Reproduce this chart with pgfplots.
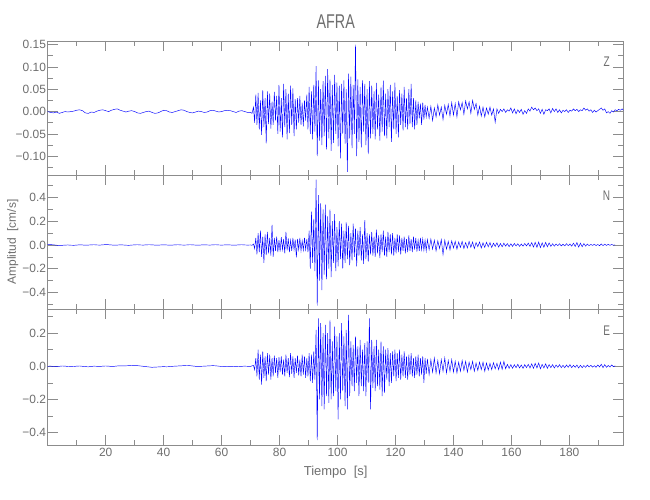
\documentclass[border=0pt]{standalone}
\usepackage{fontspec}
\setmainfont{Liberation Sans}
\newfontfamily\titlefont{Liberation Sans}[FakeStretch=0.72]
\usepackage{pgfplots}
\pgfplotsset{compat=1.18}
\definecolor{axgray}{RGB}{140,140,140}
\definecolor{txtgray}{RGB}{110,110,110}
\definecolor{trace}{RGB}{0,0,255}
\pgfplotsset{seis/.style={
  scale only axis, width=575.6bp, xmin=0, xmax=198.6,
  axis line style={axgray, line width=0.6bp},
  every tick/.style={axgray, line width=0.6bp},
  major tick length=10bp, minor tick length=5bp,
  xtick={20,40,...,180}, minor xtick={10,30,...,190},
  tick align=inside, xtick pos=both, ytick pos=both,
  xticklabel pos=bottom, yticklabel pos=left,
  ticklabel style={font=\fontsize{12}{14}\selectfont, text=txtgray},
  yticklabel style={inner sep=1.5bp},
  clip=true,
}}
\begin{document}
\begin{tikzpicture}
\path[use as bounding box] (-47.7bp,-55bp) rectangle (602.3bp,445bp);
% ---------------- Z ----------------
\begin{axis}[seis, at={(0,270bp)}, anchor=south west, height=134bp,
  ymin=-0.142, ymax=0.158,
  ytick={-0.10,-0.05,0,0.05,0.10,0.15}, minor ytick={-0.125,-0.075,-0.025,0.025,0.075,0.125},
  yticklabels={−0.10,−0.05,0.00,0.05,0.10,0.15}, xticklabels={}]
\addplot[trace, line width=0.45bp] coordinates {
(0,0.000)(1,-0.002)(2,-0.003)(3,-0.001)(4,-0.004)(5,-0.002)(6,0.000)(7,-0.001)(8,0.000)(9,0.001)
(10,0.003)(11,0.004)(12,0.002)(13,-0.003)(14,-0.004)(15,-0.001)(16,-0.002)(17,0.001)(18,0.003)(19,0.004)
(20,0.002)(21,0.000)(22,0.003)(23,0.005)(24,0.006)(25,0.003)(26,0.001)(27,-0.001)(28,0.001)(29,0.002)
(30,0.000)(31,-0.003)(32,-0.004)(33,-0.002)(34,0.000)(35,0.001)(36,-0.002)(37,-0.004)(38,-0.003)(39,0.000)
(40,0.003)(41,0.002)(42,-0.001)(43,-0.002)(44,0.000)(45,0.002)(46,0.004)(47,0.003)(48,0.000)(49,-0.002)
(50,-0.003)(51,-0.001)(52,0.001)(53,0.000)(54,-0.002)(55,-0.001)(56,0.002)(57,0.003)(58,0.001)(59,-0.001)
(60,0.000)(61,0.002)(62,0.003)(63,0.002)(64,0.000)(65,-0.002)(66,0.001)(67,0.002)(68,0.000)(69,-0.002)
(70,-0.002)(70.5,-0.004)
(71.0,0.010)(71.4,-0.025)(71.8,0.038)(72.2,-0.030)(72.6,0.042)(73.0,-0.040)(73.4,0.025)(73.8,-0.052)
(74.2,0.048)(74.6,-0.035)(75.0,0.030)(75.4,-0.071)(75.8,0.045)(76.2,-0.028)(76.6,0.040)(77.0,-0.038)
(77.4,0.022)(77.8,-0.030)(78.2,0.044)(78.6,-0.020)(79.0,0.035)(79.4,-0.050)(79.8,0.060)(80.2,-0.045)
(80.6,0.030)(81.0,-0.058)(81.4,0.062)(81.8,-0.035)(82.2,0.050)(82.6,-0.062)(83.0,0.040)(83.4,-0.048)
(83.8,0.058)(84.2,-0.030)(84.6,0.052)(85.0,-0.055)(85.4,0.028)(85.8,-0.040)(86.2,0.030)(86.6,-0.025)
(87.0,0.035)(87.4,-0.030)(87.8,0.020)(88.2,-0.033)(88.6,0.025)(89.0,-0.020)(89.4,0.038)(89.8,-0.040)
(90.2,0.055)(90.6,-0.050)(91.0,0.045)(91.4,-0.062)(91.8,0.060)(92.2,-0.045)(92.6,0.102)(93.0,-0.100)
(93.4,0.070)(93.8,-0.065)(94.2,0.050)(94.6,-0.075)(95.0,0.068)(95.4,-0.055)(95.8,0.080)(96.2,-0.085)
(96.6,0.095)(97.0,-0.060)(97.4,0.072)(97.8,-0.088)(98.2,0.060)(98.6,-0.070)(99.0,0.082)(99.4,-0.050)
(99.8,0.065)(100.2,-0.078)(100.6,0.058)(101.0,-0.105)(101.4,0.062)(101.8,-0.050)(102.2,0.070)(102.6,-0.072)
(103.0,0.050)(103.4,-0.135)(103.8,0.085)(104.2,-0.060)(104.6,0.078)(105.0,-0.082)(105.4,0.060)(105.8,-0.050)
(106.2,0.150)(106.6,-0.100)(107.0,0.072)(107.4,-0.068)(107.8,0.055)(108.2,-0.080)(108.6,0.070)(109.0,-0.045)
(109.4,0.062)(109.8,-0.075)(110.2,0.050)(110.6,-0.095)(111.0,0.068)(111.4,-0.060)(111.8,0.058)(112.2,-0.050)
(112.6,0.045)(113.0,-0.062)(113.4,0.064)(113.8,-0.040)(114.2,0.038)(114.6,-0.065)(115.0,0.055)(115.4,-0.045)
(115.8,0.069)(116.2,-0.055)(116.6,0.040)(117.0,-0.060)(117.4,0.050)(117.8,-0.035)(118.2,0.060)(118.6,-0.068)
(119.0,0.045)(119.4,-0.040)(119.8,0.065)(120.2,-0.050)(120.6,0.035)(121.0,-0.058)(121.4,0.048)(121.8,-0.030)
(122.2,0.040)(122.6,-0.042)(123.0,0.055)(123.4,-0.035)(123.8,0.030)(124.2,-0.040)(124.6,0.050)(125.0,-0.028)
(125.4,0.062)(125.8,-0.035)(126.2,0.030)(126.6,-0.040)(127.0,0.025)(127.4,-0.030)(127.8,0.022)(128.2,-0.015)
(128.6,0.018)(129.0,-0.030)(129.4,0.020)(129.8,-0.018)(130.2,0.015)(130.6,-0.012)
(131.0,0.010)(131.6,-0.015)(132.2,0.012)(132.8,-0.020)(133.4,0.008)(134.0,-0.012)(134.6,0.015)(135.2,-0.008)
(135.8,0.010)(136.4,-0.018)(137.0,0.014)(137.6,-0.006)(138.2,0.016)(138.8,-0.010)(139.4,0.020)(140.0,-0.008)
(140.6,0.018)(141.2,-0.012)(141.8,0.022)(142.4,0.004)(143.0,0.020)(143.6,-0.006)(144.2,0.024)(144.8,0.006)
(145.4,0.022)(146.0,-0.004)(146.6,0.025)(147.2,0.005)(147.8,0.018)(148.4,-0.008)(149.0,0.012)(149.6,-0.010)
(150.2,0.010)(150.8,-0.012)(151.4,0.008)(152.0,-0.006)(152.6,0.010)(153.2,-0.008)(153.8,0.006)(154.4,-0.024)
(155.0,0.006)(155.6,-0.004)(156.2,0.005)(156.8,0.000)(157.4,0.006)(158.0,-0.002)(158.6,0.004)(159.2,0.001)
(159.8,0.008)(160.4,-0.003)(161.0,0.006)(161.6,-0.005)(162.2,0.004)(162.8,-0.002)(163.4,0.005)(164.0,-0.006)
(164.6,0.002)(165.2,-0.004)(165.8,0.006)(166.4,0.001)(167.0,0.010)(167.6,0.004)(168.2,0.008)(168.8,0.002)
(169.4,0.006)(170.0,-0.004)(170.6,0.005)(171.2,-0.006)(171.8,0.004)(172.4,0.002)(173.0,0.006)(173.6,-0.003)
(174.2,0.007)(174.8,0.000)(175.4,0.006)(176.0,-0.002)(176.6,0.004)(177.2,-0.003)(177.8,0.003)(178.4,0.000)
(179.0,0.004)(179.6,-0.002)(180.2,0.003)(180.8,0.001)(181.4,0.006)(182.0,0.002)(182.6,0.005)(183.2,0.000)
(183.8,0.004)(184.4,0.002)(185.0,0.008)(185.6,0.003)(186.2,0.006)(186.8,0.001)(187.4,0.004)(188.0,-0.002)
(188.6,0.003)(189.2,-0.001)(189.8,0.002)(190.4,0.005)(191.0,0.008)(191.6,0.003)(192.2,0.006)(192.8,-0.003)
(193.4,0.000)(194.0,-0.004)(194.6,0.002)(195.2,-0.001)(195.8,0.004)(196.4,0.002)(197.0,0.005)(197.6,0.003)
(198.2,0.006)(198.6,0.003)
};
\node[font=\fontsize{14}{16}\titlefont, text=txtgray] at (rel axis cs:0.971,0.843) {Z};
\end{axis}
% ---------------- N ----------------
\begin{axis}[seis, at={(0,136bp)}, anchor=south west, height=134bp,
  ymin=-0.539, ymax=0.589,
  ytick={-0.4,-0.2,0,0.2,0.4}, minor ytick={-0.5,-0.3,-0.1,0.1,0.3,0.5},
  yticklabels={−0.4,−0.2,0.0,0.2,0.4}, xticklabels={}]
\addplot[trace, line width=0.45bp] coordinates {
(0,0.002)(1,0.003)(2,0.001)(3,-0.002)(4,-0.004)(5,-0.003)(6,-0.001)(7,0.000)(8,-0.002)(9,-0.003)
(10,-0.001)(11,0.001)(12,0.000)(13,-0.002)(14,-0.001)(15,0.001)(16,0.002)(17,0.000)(18,-0.001)(19,0.001)
(20,0.003)(21,0.002)(22,0.000)(23,-0.002)(24,-0.001)(25,0.001)(26,0.000)(27,-0.002)(28,-0.003)(29,-0.001)
(30,0.001)(31,0.002)(32,0.000)(33,-0.001)(34,0.001)(35,0.002)(36,0.001)(37,-0.001)(38,-0.002)(39,0.000)
(40,0.001)(41,0.000)(42,-0.002)(43,-0.001)(44,0.001)(45,0.002)(46,0.000)(47,-0.001)(48,0.000)(49,0.002)
(50,0.001)(51,-0.001)(52,-0.002)(53,0.000)(54,0.001)(55,0.000)(56,-0.001)(57,0.001)(58,0.002)(59,0.000)
(60,-0.001)(61,0.000)(62,0.001)(63,0.000)(64,-0.002)(65,-0.001)(66,0.001)(67,0.002)(68,0.000)(69,-0.001)
(70,0.000)(70.5,-0.003)
(71.0,0.008)(71.4,-0.030)(71.8,0.060)(72.2,-0.080)(72.6,0.100)(73.0,-0.060)(73.4,0.120)(73.8,-0.100)
(74.2,0.070)(74.6,-0.150)(75.0,0.090)(75.4,-0.085)(75.8,0.110)(76.2,-0.070)(76.6,0.060)(77.0,-0.090)
(77.4,0.170)(77.8,-0.100)(78.2,0.060)(78.6,-0.050)(79.0,0.070)(79.4,-0.060)(79.8,0.040)(80.2,-0.055)
(80.6,0.065)(81.0,-0.040)(81.4,0.050)(81.8,-0.070)(82.2,0.110)(82.6,-0.045)(83.0,0.055)(83.4,-0.060)
(83.8,0.040)(84.2,-0.050)(84.6,0.060)(85.0,-0.040)(85.4,0.045)(85.8,-0.105)(86.2,0.050)(86.6,-0.040)
(87.0,0.060)(87.4,-0.050)(87.8,0.035)(88.2,-0.045)(88.6,0.060)(89.0,-0.040)(89.4,0.050)(89.8,-0.060)
(90.2,0.120)(90.6,-0.200)(91.0,0.280)(91.4,-0.150)(91.8,0.220)(92.2,-0.220)(92.6,0.550)(93.0,-0.510)
(93.4,0.420)(93.8,-0.300)(94.2,0.350)(94.6,-0.380)(95.0,0.300)(95.4,-0.250)(95.8,0.340)(96.2,-0.290)
(96.6,0.240)(97.0,-0.200)(97.4,0.300)(97.8,-0.270)(98.2,0.200)(98.6,-0.150)(99.0,0.260)(99.4,-0.220)
(99.8,0.150)(100.2,-0.180)(100.6,0.200)(101.0,-0.120)(101.4,0.180)(101.8,-0.200)(102.2,0.120)(102.6,-0.150)
(103.0,0.190)(103.4,-0.120)(103.8,0.160)(104.2,-0.170)(104.6,0.100)(105.0,-0.130)(105.4,0.180)(105.8,-0.100)
(106.2,0.140)(106.6,-0.180)(107.0,0.120)(107.4,-0.090)(107.8,0.150)(108.2,-0.130)(108.6,0.090)(109.0,-0.160)
(109.4,0.210)(109.8,-0.120)(110.2,0.100)(110.6,-0.140)(111.0,0.090)(111.4,-0.080)(111.8,0.110)(112.2,-0.090)
(112.6,0.070)(113.0,-0.100)(113.4,0.130)(113.8,-0.070)(114.2,0.080)(114.6,-0.110)(115.0,0.090)(115.4,-0.060)
(115.8,0.120)(116.2,-0.090)(116.6,0.070)(117.0,-0.100)(117.4,0.110)(117.8,-0.060)(118.2,0.090)(118.6,-0.080)
(119.0,0.100)(119.4,-0.090)(119.8,0.060)(120.2,-0.070)(120.6,0.090)(121.0,-0.060)(121.4,0.080)(121.8,-0.080)
(122.2,0.060)(122.6,-0.050)(123.0,0.070)(123.4,-0.070)(123.8,0.050)(124.2,-0.060)(124.6,0.080)(125.0,-0.050)
(125.4,0.050)(125.8,-0.060)(126.2,0.070)(126.6,-0.040)(127.0,0.060)(127.4,-0.055)(127.8,0.040)(128.2,-0.050)
(128.6,0.060)(129.0,-0.040)(129.4,0.050)(129.8,-0.045)(130.2,0.040)(130.6,-0.050)
(131.0,0.045)(131.6,-0.040)(132.2,0.050)(132.8,-0.035)(133.4,0.040)(134.0,-0.050)(134.6,0.035)(135.2,-0.030)
(135.8,0.045)(136.4,-0.080)(137.0,0.040)(137.6,-0.035)(138.2,0.030)(138.8,-0.040)(139.4,0.035)(140.0,-0.025)
(140.6,0.030)(141.2,-0.035)(141.8,0.025)(142.4,-0.020)(143.0,0.030)(143.6,-0.030)(144.2,0.020)(144.8,-0.025)
(145.4,0.030)(146.0,-0.020)(146.6,0.025)(147.2,-0.030)(147.8,0.020)(148.4,-0.015)(149.0,0.025)(149.6,-0.025)
(150.2,0.018)(150.8,-0.020)(151.4,0.022)(152.0,-0.015)(152.6,0.020)(153.2,-0.022)(153.8,0.015)(154.4,-0.012)
(155.0,0.018)(155.6,-0.018)(156.2,0.012)(156.8,-0.015)(157.4,0.015)(158.0,-0.010)(158.6,0.012)(159.2,-0.014)
(159.8,0.010)(160.4,-0.012)(161.0,0.012)(161.6,-0.008)(162.2,0.010)(162.8,-0.012)(163.4,0.008)(164.0,-0.010)
(164.6,0.012)(165.2,-0.008)(165.8,0.015)(166.4,-0.012)(167.0,0.020)(167.6,-0.018)(168.2,0.022)(168.8,-0.020)
(169.4,0.025)(170.0,-0.022)(170.6,0.018)(171.2,-0.020)(171.8,0.022)(172.4,-0.015)(173.0,0.018)(173.6,-0.012)
(174.2,0.010)(174.8,-0.010)(175.4,0.008)(176.0,-0.006)(176.6,0.010)(177.2,-0.008)(177.8,0.006)(178.4,-0.008)
(179.0,0.010)(179.6,-0.006)(180.2,0.008)(180.8,-0.010)(181.4,0.015)(182.0,-0.012)(182.6,0.020)(183.2,-0.018)
(183.8,0.015)(184.4,-0.015)(185.0,0.012)(185.6,-0.010)(186.2,0.008)(186.8,-0.006)(187.4,0.005)(188.0,-0.004)
(188.6,0.006)(189.2,-0.005)(189.8,0.004)(190.4,-0.006)(191.0,0.008)(191.6,-0.005)(192.2,0.006)(192.8,-0.004)
(193.4,0.005)(194.0,-0.003)(194.6,0.004)(195.2,-0.002)(195.8,0.001)
};
\node[font=\fontsize{14}{16}\titlefont, text=txtgray] at (rel axis cs:0.971,0.843) {N};
\end{axis}
% ---------------- E ----------------
\begin{axis}[seis, at={(0,0)}, anchor=south west, height=136bp,
  ymin=-0.475, ymax=0.346,
  ytick={-0.4,-0.2,0,0.2}, minor ytick={-0.3,-0.1,0.1,0.3},
  yticklabels={−0.4,−0.2,0.0,0.2},
  xticklabels={20,40,60,80,100,120,140,160,180}]
\addplot[trace, line width=0.45bp] coordinates {
(0,0.000)(1,0.001)(2,-0.001)(3,-0.002)(4,0.000)(5,0.002)(6,0.001)(7,-0.001)(8,-0.002)(9,-0.001)
(10,0.001)(11,0.002)(12,0.000)(13,-0.002)(14,-0.003)(15,-0.001)(16,0.001)(17,0.000)(18,-0.001)(19,0.001)
(20,0.002)(21,0.001)(22,-0.001)(23,0.000)(24,0.002)(25,0.003)(26,0.002)(27,0.003)(28,0.004)(29,0.005)
(30,0.006)(31,0.004)(32,0.002)(33,0.000)(34,-0.002)(35,-0.004)(36,-0.006)(37,-0.005)(38,-0.004)(39,-0.003)
(40,-0.002)(41,-0.003)(42,-0.002)(43,0.000)(44,0.001)(45,0.002)(46,0.003)(47,0.004)(48,0.005)(49,0.004)
(50,0.002)(51,0.000)(52,-0.001)(53,0.000)(54,0.001)(55,0.002)(56,0.003)(57,0.004)(58,0.003)(59,0.001)
(60,-0.001)(61,-0.002)(62,-0.001)(63,0.000)(64,-0.001)(65,-0.002)(66,-0.001)(67,0.000)(68,0.001)(69,0.000)
(70,-0.001)(70.5,0.003)
(71.0,0.005)(71.4,-0.020)(71.8,0.050)(72.2,-0.060)(72.6,0.100)(73.0,-0.080)(73.4,0.070)(73.8,-0.110)
(74.2,0.090)(74.6,-0.070)(75.0,0.060)(75.4,-0.090)(75.8,0.080)(76.2,-0.050)(76.6,0.070)(77.0,-0.080)
(77.4,0.050)(77.8,-0.060)(78.2,0.065)(78.6,-0.040)(79.0,0.050)(79.4,-0.070)(79.8,0.055)(80.2,-0.035)
(80.6,0.060)(81.0,-0.050)(81.4,0.040)(81.8,-0.060)(82.2,0.070)(82.6,-0.040)(83.0,0.050)(83.4,-0.065)
(83.8,0.080)(84.2,-0.045)(84.6,0.060)(85.0,-0.070)(85.4,0.050)(85.8,-0.040)(86.2,0.065)(86.6,-0.055)
(87.0,0.040)(87.4,-0.060)(87.8,0.070)(88.2,-0.050)(88.6,0.060)(89.0,-0.070)(89.4,0.050)(89.8,-0.060)
(90.2,0.080)(90.6,-0.090)(91.0,0.070)(91.4,-0.100)(91.8,0.090)(92.2,-0.080)(92.6,0.220)(93.0,-0.445)
(93.4,0.290)(93.8,-0.200)(94.2,0.260)(94.6,-0.240)(95.0,0.200)(95.4,-0.260)(95.8,0.250)(96.2,-0.180)
(96.6,0.200)(97.0,-0.220)(97.4,0.280)(97.8,-0.200)(98.2,0.150)(98.6,-0.180)(99.0,0.240)(99.4,-0.150)
(99.8,0.180)(100.2,-0.320)(100.6,0.200)(101.0,-0.200)(101.4,0.260)(101.8,-0.150)(102.2,0.180)(102.6,-0.240)
(103.0,0.220)(103.4,-0.260)(103.8,0.310)(104.2,-0.180)(104.6,0.150)(105.0,-0.120)(105.4,0.130)(105.8,-0.150)
(106.2,0.180)(106.6,-0.100)(107.0,0.120)(107.4,-0.180)(107.8,0.160)(108.2,-0.120)(108.6,0.100)(109.0,-0.150)
(109.4,0.140)(109.8,-0.180)(110.2,0.150)(110.6,-0.100)(111.0,0.290)(111.4,-0.260)(111.8,0.160)(112.2,-0.130)
(112.6,0.120)(113.0,-0.150)(113.4,0.160)(113.8,-0.120)(114.2,0.100)(114.6,-0.140)(115.0,0.150)(115.4,-0.180)
(115.8,0.120)(116.2,-0.160)(116.6,0.100)(117.0,-0.080)(117.4,0.110)(117.8,-0.120)(118.2,0.080)(118.6,-0.100)
(119.0,0.090)(119.4,-0.060)(119.8,0.100)(120.2,-0.090)(120.6,0.080)(121.0,-0.070)(121.4,0.100)(121.8,-0.080)
(122.2,0.070)(122.6,-0.060)(123.0,0.090)(123.4,-0.070)(123.8,0.060)(124.2,-0.080)(124.6,0.070)(125.0,-0.050)
(125.4,0.080)(125.8,-0.060)(126.2,0.050)(126.6,-0.070)(127.0,0.060)(127.4,-0.050)(127.8,0.070)(128.2,-0.060)
(128.6,0.050)(129.0,-0.050)(129.4,0.060)(129.8,-0.100)(130.2,0.050)(130.6,-0.045)
(131.0,0.045)(131.6,-0.050)(132.2,0.040)(132.8,-0.035)(133.4,0.050)(134.0,-0.040)(134.6,0.035)(135.2,-0.045)
(135.8,0.040)(136.4,-0.030)(137.0,0.050)(137.6,-0.040)(138.2,0.035)(138.8,-0.030)(139.4,0.040)(140.0,-0.035)
(140.6,0.030)(141.2,-0.040)(141.8,0.025)(142.4,-0.030)(143.0,0.035)(143.6,-0.025)(144.2,0.030)(144.8,-0.035)
(145.4,0.025)(146.0,-0.020)(146.6,0.030)(147.2,-0.030)(147.8,0.020)(148.4,-0.025)(149.0,0.025)(149.6,-0.020)
(150.2,0.025)(150.8,-0.030)(151.4,0.020)(152.0,-0.022)(152.6,0.018)(153.2,-0.020)(153.8,0.022)(154.4,-0.015)
(155.0,0.018)(155.6,-0.020)(156.2,0.025)(156.8,-0.018)(157.4,0.030)(158.0,-0.015)(158.6,0.012)(159.2,-0.012)
(159.8,0.010)(160.4,-0.012)(161.0,0.010)(161.6,-0.008)(162.2,0.012)(162.8,-0.010)(163.4,0.008)(164.0,-0.012)
(164.6,0.010)(165.2,-0.008)(165.8,0.012)(166.4,-0.010)(167.0,0.015)(167.6,-0.012)(168.2,0.018)(168.8,-0.010)
(169.4,0.020)(170.0,-0.015)(170.6,0.012)(171.2,-0.010)(171.8,0.015)(172.4,-0.012)(173.0,0.010)(173.6,-0.008)
(174.2,0.010)(174.8,-0.010)(175.4,0.008)(176.0,-0.006)(176.6,0.010)(177.2,-0.008)(177.8,0.006)(178.4,-0.008)
(179.0,0.008)(179.6,-0.006)(180.2,0.010)(180.8,-0.008)(181.4,0.006)(182.0,-0.006)(182.6,0.008)(183.2,-0.010)
(183.8,0.006)(184.4,-0.008)(185.0,0.005)(185.6,-0.006)(186.2,0.008)(186.8,-0.004)(187.4,0.006)(188.0,-0.005)
(188.6,0.004)(189.2,-0.006)(189.8,0.008)(190.4,-0.004)(191.0,0.012)(191.6,-0.008)(192.2,0.010)(192.8,-0.006)
(193.4,0.005)(194.0,-0.004)(194.6,0.008)(195.2,-0.002)(195.8,0.003)
};
\node[font=\fontsize{14}{16}\titlefont, text=txtgray] at (rel axis cs:0.971,0.843) {E};
\end{axis}
\node[font=\fontsize{20}{22}\titlefont, text=txtgray] at (288bp,423bp) {AFRA};
\node[font=\fontsize{13}{15}\selectfont, text=txtgray] at (288bp,-27bp) {Tiempo\ \ [s]};
\node[font=\fontsize{12}{14}\selectfont, text=txtgray, rotate=90] at (-35bp,203bp) {Amplitud\ \ [cm/s]};
\end{tikzpicture}
\end{document}
